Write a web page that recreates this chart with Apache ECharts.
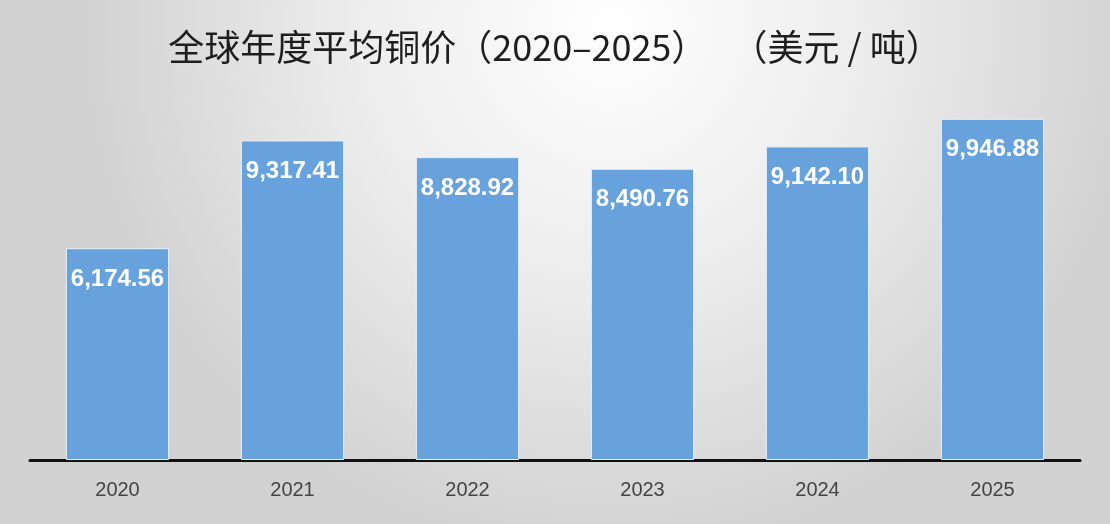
<!DOCTYPE html>
<html>
<head>
<meta charset="utf-8">
<script src="https://cdn.jsdelivr.net/npm/echarts@6/dist/echarts.min.js"></script>
<style>
html,body{margin:0;padding:0;}
#c{width:1110px;height:524px;}
</style>
</head>
<body>
<div id="c"></div>
<script>
const titleText = '全球年度平均铜价（2020–2025）   （美元 / 吨）';
const years = ['2020','2021','2022','2023','2024','2025'];
const prices = [6174.56, 9317.41, 8828.92, 8490.76, 9142.10, 9946.88];

const chart = echarts.init(document.getElementById('c'));
chart.setOption({
  backgroundColor: {
    type: 'radial', x: 0.55, y: 0.05, r: 1.0,
    colorStops: [
      {offset: 0, color: '#ffffff'},
      {offset: 0.5, color: '#ececec'},
      {offset: 1, color: '#d2d2d2'}
    ]
  },
  title: {
    text: titleText,
    left: 'center',
    top: 24,
    textStyle: {
      fontFamily: 'Noto Sans CJK SC',
      fontSize: 36,
      fontWeight: 'normal',
      color: '#1e1e1e'
    }
  },
  grid: {left: 30, right: 30, top: 117, bottom: 64},
  xAxis: {
    type: 'category',
    data: years,
    axisLine: {lineStyle: {color: '#111', width: 3}},
    axisTick: {show: false},
    axisLabel: {
      fontFamily: 'Liberation Sans',
      fontSize: 20,
      color: '#444',
      margin: 20
    }
  },
  yAxis: {
    type: 'value',
    min: 0,
    max: 10000,
    show: false,
    splitLine: {show: false}
  },
  series: [{
    type: 'bar',
    data: prices,
    barWidth: '59%',
    itemStyle: {
      color: '#67a2dc',
      borderColor: '#e8f0f8',
      borderWidth: 1
    },
    label: {
      show: true,
      position: 'insideTop',
      distance: 19,
      color: '#ffffff',
      fontFamily: 'Liberation Sans',
      fontWeight: 'bold',
      fontSize: 24,
      formatter: p => p.value.toLocaleString('en-US', {minimumFractionDigits: 2, maximumFractionDigits: 2})
    }
  }]
});
</script>
</body>
</html>
